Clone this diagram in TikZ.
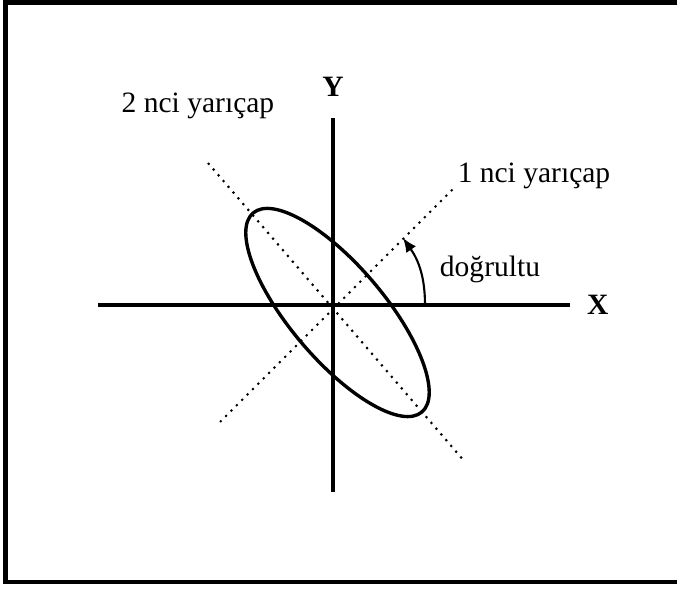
\documentclass[tikz,border=0pt]{standalone}
\usepackage{fontspec}
\setmainfont{Liberation Serif}
\usetikzlibrary{arrows.meta, positioning}

\begin{document}
\begin{tikzpicture}[
    x=0.025cm, y=0.025cm,
    frame/.style={
        line width=3.5pt, draw=black
    },
    axisline/.style={
        line width=3.3pt, draw=black
    },
    radiusline/.style={
        line width=1.5pt, dash pattern=on 1.5pt off 3.9pt
    },
    contour/.style={
        line width=2.4pt, draw=black
    },
    dirarrow/.style={
        -{Latex[length=10pt, width=8.5pt]}, line width=1.5pt
    },
    axislabel/.style={
        font=\fontsize{21}{25}\selectfont\bfseries, inner sep=0pt
    },
    radlabel/.style={
        font=\fontsize{21}{25}\selectfont, inner sep=0pt
    }
]

% Frame
\useasboundingbox (-333,-285) rectangle (344,305);
\draw[frame] (344,302.5) -- (-327.5,302.5) -- (-327.5,-277) -- (344,-277);

% Points
\coordinate (O) at (0,0);
\coordinate (xl) at (-235,0);
\coordinate (xr) at (237,0);
\coordinate (yb) at (0,-187);
\coordinate (yt) at (0,187);
\coordinate (r1a) at (-113,-117);
\coordinate (r1b) at (120,116);
\coordinate (r2a) at (-125,142);
\coordinate (r2b) at (132,-157);
\coordinate (ec) at (4.5,-7.5);
\coordinate (dirstart) at (92,0);
\coordinate (dirtip) at (70,67);

% Radii
\draw[radiusline] (r1a) -- (r1b);
\draw[radiusline] (r2a) -- (r2b);

% Axes
\draw[axisline] (xl) -- (xr);
\draw[axisline] (yb) -- (yt);

% Ellipse
\draw[contour, rotate around={130.3:(ec)}] (ec) ellipse[x radius=130.5, y radius=47];

% Direction
\draw[dirarrow] (dirstart) to[out=90, in=-55] (dirtip);

% Labels
\node[axislabel, right=12pt of xr] (xlabel) {X};
\node[axislabel, above=15pt of yt] (ylabel) {Y};
\node[radlabel, anchor=base] (rad1) at (201,122) {1 nci yarıçap};
\node[radlabel, anchor=base] (rad2) at (-135,192) {2 nci yarıçap};
\node[radlabel, anchor=base] (dirlabel) at (157,28) {doğrultu};

\end{tikzpicture}
\end{document}
